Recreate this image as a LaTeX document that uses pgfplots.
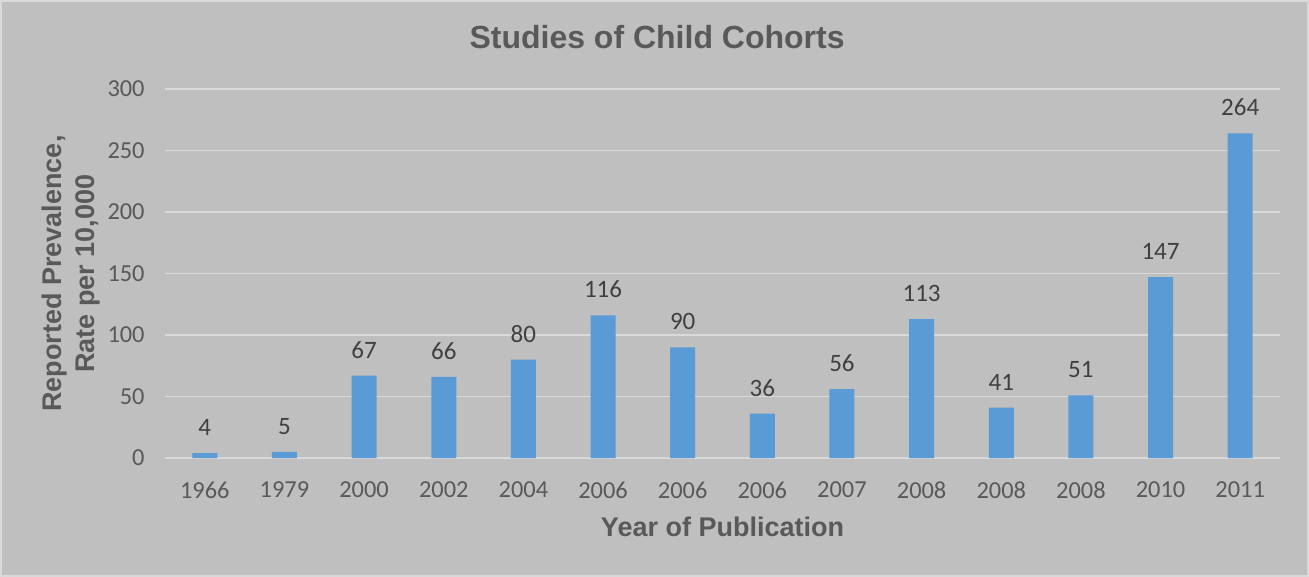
\documentclass[border=0pt]{standalone}
\usepackage{fontspec}
\setmainfont{Carlito}
\newfontfamily\arialfont{Liberation Sans}
\usepackage{pgfplots}
\pgfplotsset{compat=1.18}
\definecolor{bg}{HTML}{BFBFBF}
\definecolor{framec}{HTML}{D9D9D9}
\definecolor{gridc}{HTML}{D9D9D9}
\definecolor{barc}{HTML}{5B9BD5}
\definecolor{txt}{HTML}{595959}
\definecolor{lbl}{HTML}{404040}
\begin{document}
\begin{tikzpicture}
\fill[bg] (0,0) rectangle (654.5pt,288.5pt);
\draw[framec, line width=1.2pt] (0.6pt,0.6pt) rectangle (653.9pt,287.9pt);
\begin{axis}[
  at={(82.5pt,59.5pt)}, anchor=south west,
  scale only axis, width=557.5pt, height=184.5pt,
  ybar, bar width=12.5pt,
  xmin=-0.5, xmax=13.5, ymin=0, ymax=300,
  xtick=data,
  xticklabels={1966,1979,2000,2002,2004,2006,2006,2006,2007,2008,2008,2008,2010,2011},
  ytick={0,50,...,300},
  ymajorgrids, grid style={gridc, line width=0.7pt},
  axis line style={draw=none}, major tick length=0pt,
  /pgf/number format/assume math mode=true,
  tick label style={font=\fontsize{12.2}{14}\selectfont, text=txt},
  xticklabel style={anchor=center, yshift=-16pt},
  yticklabel style={anchor=east, inner sep=0pt, xshift=-10pt},
  nodes near coords,
  every node near coord/.append style={font=\fontsize{12.5}{14}\selectfont, text=lbl, inner sep=0pt, anchor=south, yshift=8.5pt},
  title={Studies of Child Cohorts},
  title style={at={(axis description cs:0.4413,1.108)}, anchor=center, font=\arialfont\bfseries\fontsize{16}{19}\selectfont, text=txt},
  xlabel={Year of Publication},
  xlabel style={at={(axis description cs:0.5,-0.187)}, anchor=center, font=\arialfont\bfseries\fontsize{13.5}{16}\selectfont, text=txt},
  ylabel={Reported Prevalence,\\Rate per 10,000},
  ylabel style={at={(axis description cs:-0.0843,0.5)}, anchor=center, align=center, font=\arialfont\bfseries\fontsize{13.5}{16.5}\selectfont, text=txt},
]
\addplot[fill=barc, draw=none] coordinates {
(0,4) (1,5) (2,67) (3,66) (4,80) (5,116) (6,90) (7,36) (8,56) (9,113) (10,41) (11,51) (12,147) (13,264)
};
\end{axis}
\end{tikzpicture}
\end{document}
